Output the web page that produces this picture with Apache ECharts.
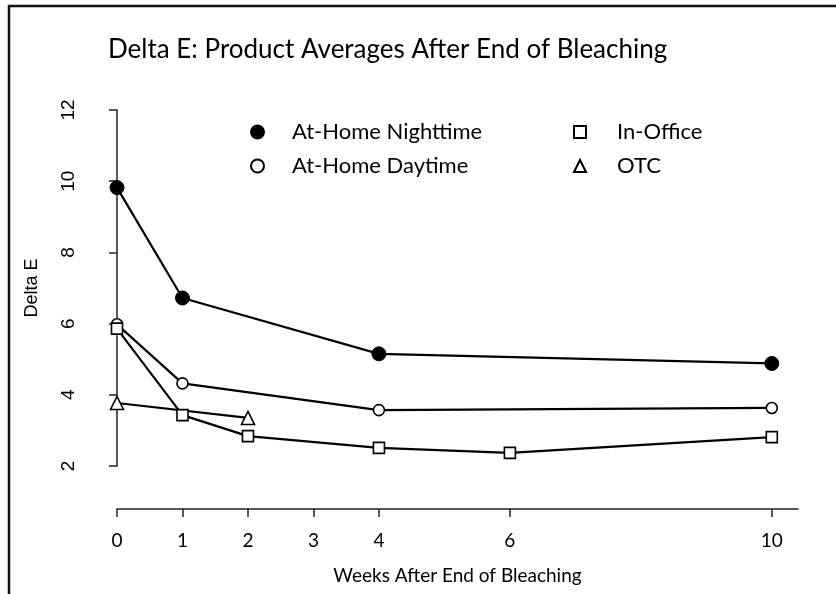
<!DOCTYPE html>
<html>
<head>
<meta charset="utf-8">
<script src="https://cdn.jsdelivr.net/npm/echarts@6/dist/echarts.min.js"></script>
<style>html,body{margin:0;padding:0;background:#fff}#c{width:836px;height:594px}</style>
</head>
<body>
<div id="c"></div>
<script>
var xTicks = [0, 1, 2, 3, 4, 6, 10];
var nightWeeks = [0, 1, 4, 10];
var nightVals = [9.82, 6.72, 5.15, 4.88];
var dayWeeks = [0, 1, 4, 10];
var dayVals = [5.98, 4.32, 3.57, 3.63];
var officeWeeks = [0, 1, 2, 4, 6, 10];
var officeVals = [5.86, 3.43, 2.84, 2.51, 2.37, 2.81];
var otcWeeks = [0, 2];
var otcVals = [3.77, 3.35];

function pairs(xs, ys) { return xs.map(function (x, i) { return [x, ys[i]]; }); }

var chart = echarts.init(document.getElementById('c'), null, {renderer: 'canvas'});
var sans = 'Lato';
var lineW = 2.2;
chart.setOption({
  animation: false,
  backgroundColor: '#fff',
  title: {
    text: 'Delta E: Product Averages After End of Bleaching',
    left: 103, top: 32,
    textStyle: {fontFamily: sans, fontSize: 26, fontWeight: 'normal', color: '#000'}
  },
  legend: [{
    left: 245, top: 116, orient: 'vertical', itemGap: 12,
    itemWidth: 13, itemHeight: 13,
    textStyle: {fontFamily: sans, fontSize: 22, color: '#000', padding: [0, 0, 0, 23]},
    data: [{name: 'At-Home Nighttime', icon: 'circle'}, {name: 'At-Home Daytime', icon: 'circle'}]
  }, {
    left: 568, top: 116, orient: 'vertical', itemGap: 12,
    itemWidth: 12, itemHeight: 12,
    textStyle: {fontFamily: sans, fontSize: 22, color: '#000', padding: [0, 0, 0, 26]},
    data: [{name: 'In-Office', icon: 'rect'}, {name: 'OTC', icon: 'triangle'}]
  }],
  grid: {left: 117, right: 38, top: 110, bottom: 128},
  xAxis: {
    type: 'value', min: 0, max: 10.4, offset: 43,
    name: 'Weeks After End of Bleaching', nameLocation: 'middle', nameGap: 57,
    nameTextStyle: {fontFamily: sans, fontSize: 19, color: '#000'},
    axisLine: {lineStyle: {color: '#222', width: 1.5}},
    axisTick: {customValues: xTicks, length: 8, lineStyle: {color: '#222', width: 1.5}},
    axisLabel: {customValues: xTicks, margin: 22, fontFamily: sans, fontSize: 19, color: '#000'},
    splitLine: {show: false}
  },
  yAxis: {
    type: 'value', min: 2, max: 12, interval: 2, offset: 26,
    name: 'Delta E', nameLocation: 'middle', nameRotate: 90, nameGap: 50,
    nameTextStyle: {fontFamily: 'Liberation Sans', fontSize: 18, color: '#000'},
    axisLine: {show: true, lineStyle: {color: '#222', width: 1.5}},
    axisTick: {show: true, length: 8, lineStyle: {color: '#222', width: 1.5}},
    axisLabel: {rotate: 90, margin: 13, fontFamily: 'Liberation Sans', fontSize: 19, color: '#000'},
    splitLine: {show: false}
  },
  series: [{
    name: 'At-Home Nighttime', type: 'line', data: pairs(nightWeeks, nightVals),
    symbol: 'circle', symbolSize: 14,
    lineStyle: {color: '#000', width: lineW},
    itemStyle: {color: '#000', borderColor: '#000', borderWidth: 1}
  }, {
    name: 'At-Home Daytime', type: 'line', data: pairs(dayWeeks, dayVals),
    symbol: 'circle', symbolSize: 11,
    lineStyle: {color: '#000', width: lineW},
    itemStyle: {color: '#fff', borderColor: '#000', borderWidth: 1.6}
  }, {
    name: 'In-Office', type: 'line', data: pairs(officeWeeks, officeVals),
    symbol: 'rect', symbolSize: 11,
    lineStyle: {color: '#000', width: lineW},
    itemStyle: {color: '#fff', borderColor: '#000', borderWidth: 1.6}
  }, {
    name: 'OTC', type: 'line', data: pairs(otcWeeks, otcVals),
    symbol: 'triangle', symbolSize: 13,
    lineStyle: {color: '#000', width: lineW},
    itemStyle: {color: '#fff', borderColor: '#000', borderWidth: 1.6}
  }],
  graphic: [{
    type: 'polyline', silent: true,
    shape: {points: [[9, 594], [9, 6], [836, 6]]},
    style: {stroke: '#111', lineWidth: 2.5, fill: null}
  }]
});
</script>
</body>
</html>
